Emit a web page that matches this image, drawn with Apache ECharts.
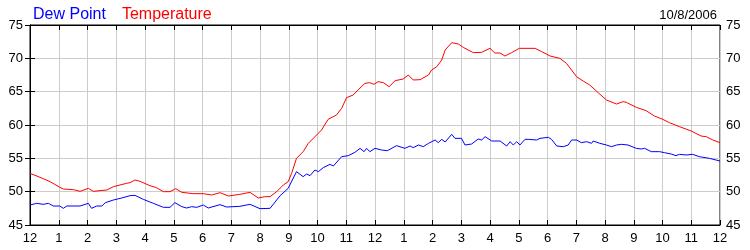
<!DOCTYPE html>
<html><head><meta charset="utf-8">
<script src="https://cdn.jsdelivr.net/npm/echarts@6/dist/echarts.min.js"></script>
<style>html,body{margin:0;padding:0;background:#fff}#c{width:750px;height:250px}</style>
</head><body><div id="c"></div>
<script>
const hourLabels = ['12','1','2','3','4','5','6','7','8','9','10','11','12','1','2','3','4','5','6','7','8','9','10','11','12'];
const yTicks = [45,50,55,60,65,70,75];
const dateLabel = '10/8/2006';

const tempHours = [0,0.35,0.7,1.04,1.16,1.51,1.74,2.03,2.2,2.67,2.9,3.36,3.48,3.65,3.83,4.17,4.4,4.64,4.87,5.07,5.28,5.68,6.03,6.32,6.61,6.9,7.3,7.65,7.94,8.17,8.35,8.58,8.81,8.98,9.1,9.27,9.5,9.68,9.97,10.14,10.37,10.66,10.84,11.01,11.24,11.41,11.65,11.82,11.96,12.11,12.29,12.49,12.7,12.98,13.16,13.33,13.57,13.86,13.97,14.15,14.32,14.44,14.67,14.9,15.07,15.42,15.71,16.0,16.17,16.35,16.52,16.75,17.02,17.57,17.8,18.09,18.43,18.66,19.01,19.24,19.47,19.76,20.05,20.4,20.63,20.74,21.09,21.43,21.72,22.01,22.24,22.59,23.0,23.34,23.52,23.75,24.0];
const tempValues = [52.75,52.15,51.5,50.65,50.4,50.3,50.05,50.5,50.05,50.25,50.75,51.25,51.35,51.75,51.55,50.9,50.6,50.0,50.0,50.45,49.9,49.7,49.7,49.5,49.85,49.35,49.6,49.9,49.05,49.25,49.25,50.0,51.0,51.5,52.75,55.0,56.0,57.25,58.5,59.25,60.85,61.5,62.5,64.1,64.5,65.25,66.25,66.35,66.1,66.5,66.35,65.75,66.65,66.9,67.5,66.75,66.8,67.5,68.25,68.75,69.75,71.25,72.35,72.15,71.65,70.85,70.9,71.5,70.8,70.8,70.35,70.85,71.5,71.5,71.0,70.35,70.0,69.25,67.25,66.6,66.0,64.85,63.75,63.15,63.5,63.4,62.65,62.15,61.35,60.85,60.35,59.75,59.1,58.35,58.25,57.75,57.35];

const dewHours = [0,0.23,0.46,0.64,0.81,1.04,1.16,1.28,1.74,2.03,2.14,2.32,2.5,2.62,2.9,3.19,3.48,3.65,3.94,4.29,4.64,4.87,5.04,5.28,5.45,5.62,5.8,6.03,6.2,6.61,6.84,7.3,7.65,8.0,8.35,8.7,8.98,9.27,9.5,9.62,9.74,9.91,10.03,10.2,10.43,10.55,10.84,11.07,11.3,11.48,11.62,11.71,11.82,12.0,12.23,12.43,12.75,13.04,13.22,13.33,13.51,13.68,13.86,14.09,14.2,14.32,14.44,14.67,14.78,15.01,15.13,15.36,15.59,15.71,15.83,16.06,16.35,16.58,16.7,16.81,16.93,17.04,17.22,17.33,17.62,17.74,18.03,18.14,18.32,18.55,18.72,18.84,19.01,19.18,19.36,19.53,19.59,19.82,20.05,20.23,20.4,20.57,20.8,21.09,21.26,21.38,21.61,21.9,22.07,22.3,22.47,22.59,22.82,23.05,23.28,23.63,24.0];
const dewValues = [48.0,48.25,48.1,48.25,47.85,47.85,47.5,47.85,47.85,48.25,47.5,47.85,47.85,48.35,48.75,49.05,49.4,49.45,48.85,48.25,47.65,47.65,48.35,47.75,47.55,47.75,47.65,48.0,47.55,48.05,47.7,47.8,48.1,47.45,47.5,49.4,50.5,53.0,52.25,52.65,52.4,53.25,53.0,53.6,54.1,53.85,55.25,55.4,55.9,56.5,56.0,56.5,56.0,56.5,56.25,56.15,56.9,56.5,56.85,56.6,57.0,56.75,57.25,57.75,57.35,57.85,57.45,58.6,58.0,58.0,57.0,57.15,57.9,57.75,58.25,57.6,57.6,56.85,57.5,57.0,57.5,57.0,57.85,57.85,57.75,58.0,58.15,57.85,56.85,56.75,57.0,57.75,57.75,57.35,57.5,57.25,57.6,57.25,57.0,56.75,57.0,57.1,57.0,56.5,56.4,56.5,56.0,56.0,55.85,55.65,55.4,55.6,55.5,55.6,55.25,55.0,54.6];

const FONT = 'Liberation Sans';
const chart = echarts.init(document.getElementById('c'), null, {renderer:'canvas'});
const pairs = (h, v) => h.map((x, i) => [x, v[i]]);
const xBase = {type:'value', min:0, max:24, interval:1};
const yBase = {type:'value', min:yTicks[0], max:yTicks[yTicks.length-1], interval:5};
chart.setOption({
  animation:false,
  backgroundColor:'#fff',
  title:{text:dateLabel, right:28, top:4, textStyle:{fontFamily:FONT, fontSize:13, fontWeight:'normal', color:'#000'}},
  legend:{left:23, top:2, icon:'none', itemWidth:0, itemHeight:10, itemGap:11, selectedMode:false,
    textStyle:{fontFamily:FONT, fontSize:16},
    data:[{name:'Dew Point', textStyle:{color:'#0000ff'}},{name:'Temperature', textStyle:{color:'#ff0000'}}]},
  grid:{left:30, right:30, top:25, bottom:25, show:true, borderColor:'#000', borderWidth:1, backgroundColor:'#fff'},
  xAxis:[
    Object.assign({}, xBase, {position:'bottom',
      axisLine:{show:true, lineStyle:{color:'#000', width:1}},
      axisTick:{show:true, inside:true, length:5, lineStyle:{color:'#000'}},
      axisLabel:{show:true, margin:7, color:'#000', fontFamily:FONT, fontSize:13, formatter:(v)=>hourLabels[Math.round(v)]},
      splitLine:{show:true, lineStyle:{color:'#cccccc', width:1}}}),
    Object.assign({}, xBase, {position:'top',
      axisLine:{show:true, lineStyle:{color:'#000', width:1}},
      axisTick:{show:true, inside:true, length:5, lineStyle:{color:'#000'}},
      axisLabel:{show:false}, splitLine:{show:false}})
  ],
  yAxis:[
    Object.assign({}, yBase, {position:'left',
      axisLine:{show:true, lineStyle:{color:'#000', width:1}},
      axisTick:{show:true, inside:true, length:5, lineStyle:{color:'#000'}},
      axisLabel:{show:true, margin:7, color:'#000', fontFamily:FONT, fontSize:13},
      splitLine:{show:true, lineStyle:{color:'#cccccc', width:1}}}),
    Object.assign({}, yBase, {position:'right',
      axisLine:{show:true, lineStyle:{color:'#000', width:1}},
      axisTick:{show:true, inside:true, length:5, lineStyle:{color:'#000'}},
      axisLabel:{show:true, margin:6, color:'#000', fontFamily:FONT, fontSize:13},
      splitLine:{show:false}})
  ],
  series:[
    {name:'Dew Point', type:'line', xAxisIndex:0, yAxisIndex:0, showSymbol:false, symbol:'none', color:'#0000ff',
      lineStyle:{color:'#0000ff', width:1}, data:pairs(dewHours, dewValues), z:3},
    {name:'Temperature', type:'line', xAxisIndex:0, yAxisIndex:0, showSymbol:false, symbol:'none', color:'#ff0000',
      lineStyle:{color:'#ff0000', width:1}, data:pairs(tempHours, tempValues), z:3}
  ]
});
</script></body></html>
